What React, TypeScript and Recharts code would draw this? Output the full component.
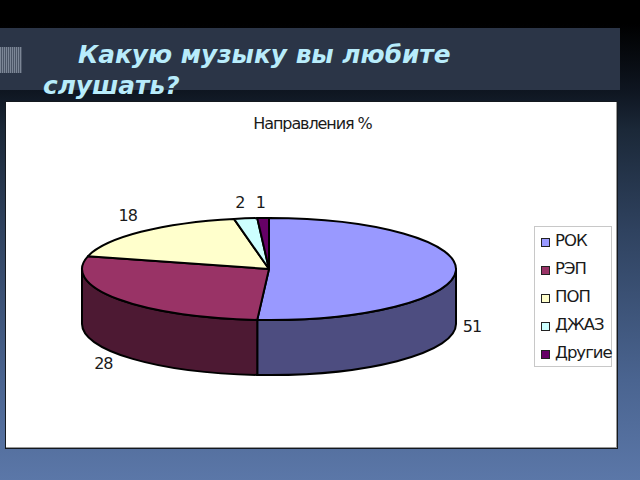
import React from "react";
import { PieChart, Pie, Legend } from "recharts";

const categories = ["РОК", "РЭП", "ПОП", "ДЖАЗ", "Другие"];
const shares = [51, 28, 18, 2, 1];
const topColors = ["#9999ff", "#993366", "#ffffcc", "#ccffff", "#660066"];
const sideColors = ["#4d4d80", "#4d1933", "#808066", "#668080", "#330033"];
const chartTitle = "Направления %";
const titleLineOne = "Какую музыку вы любите";
const titleLineTwo = "слушать?";

const rows = categories.map((name, i) => ({
  name,
  value: shares[i],
  fill: topColors[i],
  side: sideColors[i],
}));

const FLATTEN = 51 / 187;
const DEPTH = 55;
const rad = (a: number) => (a * Math.PI) / 180;

function Slice3D(props: any) {
  const { cx, cy, outerRadius: rx, startAngle, endAngle, fill, payload, name } = props;
  const ry = rx * FLATTEN;
  const px = (a: number) => cx + rx * Math.cos(rad(a));
  const py = (a: number) => cy - ry * Math.sin(rad(a));
  const side = payload?.side ?? sideColors[categories.indexOf(name)];
  const large = Math.abs(endAngle - startAngle) > 180 ? 1 : 0;
  const top = `M${cx},${cy} L${px(startAngle)},${py(startAngle)} A${rx},${ry} 0 ${large} 1 ${px(endAngle)},${py(endAngle)} Z`;
  const wallStart = Math.min(startAngle, 0);
  const wallEnd = Math.max(endAngle, -180);
  let wall = null;
  if (wallStart > wallEnd) {
    const d = `M${px(wallStart)},${py(wallStart)} A${rx},${ry} 0 0 1 ${px(wallEnd)},${py(wallEnd)} L${px(wallEnd)},${py(wallEnd) + DEPTH} A${rx},${ry} 0 0 0 ${px(wallStart)},${py(wallStart) + DEPTH} Z`;
    wall = <path d={d} fill={side} stroke="#000" strokeWidth={2} strokeLinejoin="round" />;
  }
  return (
    <g>
      {wall}
      <path d={top} fill={fill} stroke="#000" strokeWidth={2} strokeLinejoin="round" />
    </g>
  );
}

function SliceLabel(props: any) {
  const { cx, cy, outerRadius: rx, midAngle, value } = props;
  const ry = rx * FLATTEN;
  const c = Math.cos(rad(midAngle));
  const s = Math.sin(rad(midAngle));
  const x = cx + rx * c + 16 * Math.sign(c) * Math.sqrt(Math.abs(c));
  const y = cy - ry * s + (s < 0 ? DEPTH - 16 * s : -16);
  return (
    <text x={x} y={y} textAnchor="middle" dominantBaseline="central" fontFamily="'DejaVu Sans'" fontSize={16} fill="#1a1a1a" letterSpacing={-1}>
      {value}
    </text>
  );
}

function LegendBox(props: any) {
  const items = props.payload || [];
  return (
    <div style={{ width: 78, height: 141, boxSizing: "border-box", border: "1px solid #c8c8c8", background: "#fff", paddingTop: 1 }}>
      {items.map((it: any) => (
        <div key={it.value} style={{ height: 28, display: "flex", alignItems: "center", paddingLeft: 5.5 }}>
          <span style={{ width: 7, height: 7, border: "1.5px solid #222", background: it.color, display: "inline-block", marginRight: 5.5, flex: "none" }} />
          <span style={{ fontFamily: "'DejaVu Sans'", fontSize: 16.5, color: "#1a1a1a", letterSpacing: -1, whiteSpace: "nowrap", position: "relative", top: -2 }}>{it.value}</span>
        </div>
      ))}
    </div>
  );
}

export default function App() {
  return (
    <div style={{ position: "absolute", left: 0, top: 0, width: 640, height: 480, overflow: "hidden", background: "linear-gradient(180deg,#000 0px,#000 24px,#0e1520 90px,#1b2838 130px,#2f425f 230px,#4a6490 380px,#5b77a8 480px)" }}>
      <div style={{ position: "absolute", left: 0, top: 28, width: 620, height: 62, background: "#2b3547" }} />
      <div style={{ position: "absolute", left: 0, top: 47, width: 22, height: 26, background: "repeating-linear-gradient(90deg,#7c8696 0px,#7c8696 1px,#4a5465 1px,#4a5465 2px)" }} />
      <div style={{ position: "absolute", left: 78, top: 40, fontFamily: "'DejaVu Sans'", fontWeight: "bold", fontStyle: "italic", fontSize: 24.8, color: "#b8ecfb", whiteSpace: "nowrap", lineHeight: "30px" }}>{titleLineOne}</div>
      <div style={{ position: "absolute", left: 43, top: 71, fontFamily: "'DejaVu Sans'", fontWeight: "bold", fontStyle: "italic", fontSize: 24.8, color: "#b8ecfb", whiteSpace: "nowrap", lineHeight: "30px", zIndex: 3 }}>{titleLineTwo}</div>
      <div style={{ position: "absolute", left: 5, top: 101, width: 613, height: 348, boxSizing: "border-box", border: "1.5px solid #14191f", background: "#fff", boxShadow: "inset -1px -1px 0 #999" }} />
      <div style={{ position: "absolute", left: 0, top: 0 }}>
        <PieChart width={640} height={480} margin={{ top: 0, right: 0, bottom: 0, left: 0 }}>
          <text x={312.5} y={123} textAnchor="middle" dominantBaseline="central" fontFamily="'DejaVu Sans'" fontSize={16} fill="#1a1a1a" letterSpacing={-1.08}>
            {chartTitle}
          </text>
          <Pie
            data={rows}
            dataKey="value"
            nameKey="name"
            cx={269}
            cy={269}
            outerRadius={187}
            startAngle={90}
            endAngle={-270}
            isAnimationActive={false}
            shape={Slice3D}
            label={SliceLabel}
            labelLine={false}
            stroke="#000"
          />
          <Legend content={LegendBox} itemSorter={null} layout="vertical" wrapperStyle={{ position: "absolute", left: 534, top: 226, width: 78, height: 141 }} />
        </PieChart>
      </div>
    </div>
  );
}
